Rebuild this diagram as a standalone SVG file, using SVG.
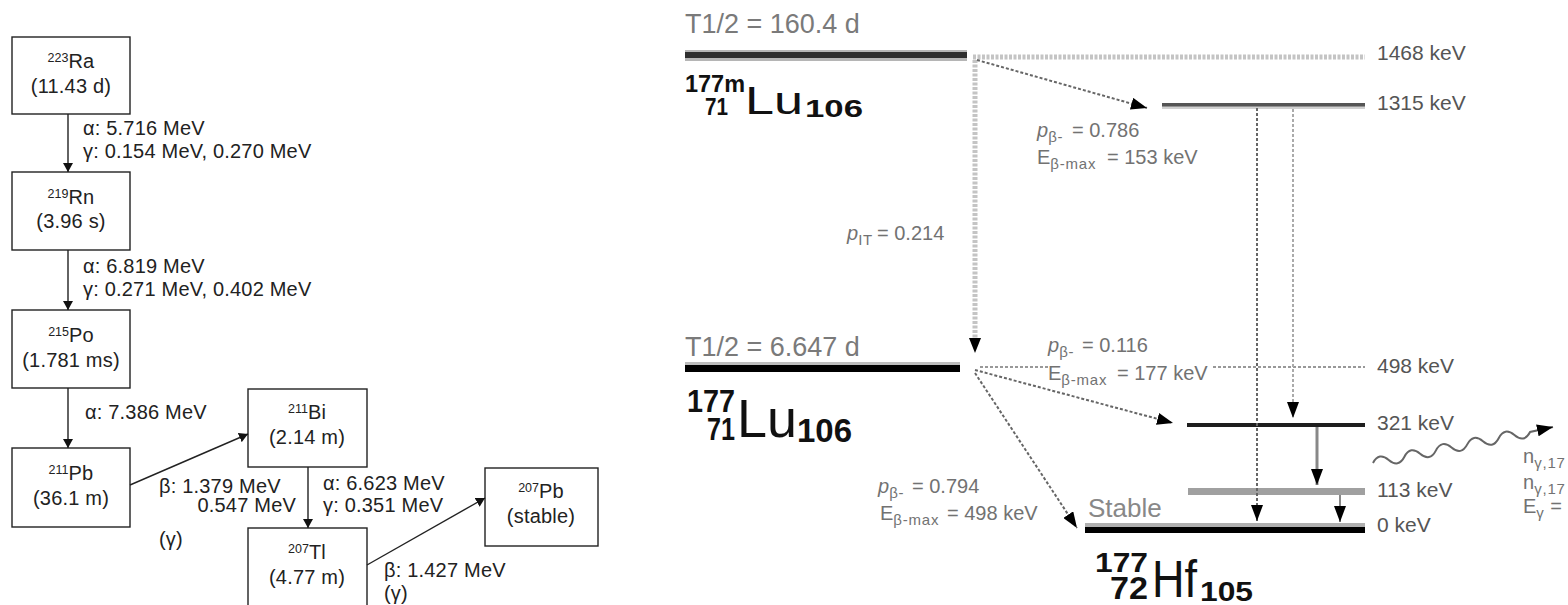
<svg xmlns="http://www.w3.org/2000/svg" width="1568" height="605" viewBox="0 0 1568 605">
<style>
.box{fill:#fff;stroke:#222;stroke-width:1.4}
.t{font-family:"Liberation Sans",Arial,sans-serif;font-size:20px;fill:#222;letter-spacing:0.2px}
.c{text-anchor:middle}
.sup{font-size:12.5px;letter-spacing:0}
.con{stroke:#222;stroke-width:1.4;fill:none}
.r{font-family:"Liberation Sans",Arial,sans-serif;font-size:20px;fill:#727272}
.big{font-family:"Liberation Sans",Arial,sans-serif;font-size:27px;fill:#7a7a7a}
.kev{font-family:"Liberation Sans",Arial,sans-serif;font-size:21px;fill:#555}
.sub{font-size:15px;letter-spacing:0.8px}
.nb{font-family:"Liberation Sans",Arial,sans-serif;font-weight:bold;fill:#111}
.nr{font-family:"Liberation Sans",Arial,sans-serif;fill:#111}
.dotL{stroke:#c4c4c4;stroke-width:5;stroke-dasharray:3 1.5;fill:none}
.dotD{stroke:#666;stroke-width:2;stroke-dasharray:3 2;fill:none}
.dotM{stroke:#aaa;stroke-width:2;stroke-dasharray:3 2;fill:none}
</style>
<defs>
<marker id="ah" markerUnits="userSpaceOnUse" markerWidth="9" markerHeight="10" refX="9" refY="5" orient="auto">
<path d="M0,0 L9,5 L0,10 z" fill="#111"/>
</marker>
<marker id="ahR" markerUnits="userSpaceOnUse" markerWidth="16" markerHeight="12" refX="16" refY="6" orient="auto">
<path d="M0,0 L16,6 L0,12 z" fill="#000"/>
</marker>
</defs>
<rect width="1568" height="605" fill="#fff"/>

<!-- LEFT: decay chain -->
<g id="ra223"><rect class="box" x="12" y="37" width="118" height="77"/>
<text class="t c" x="71" y="68"><tspan class="sup" dy="-6">223</tspan><tspan dy="6">Ra</tspan></text>
<text class="t c" x="71" y="93">(11.43 d)</text></g>
<g id="rn219"><rect class="box" x="12" y="172" width="118" height="78"/>
<text class="t c" x="71" y="204"><tspan class="sup" dy="-6">219</tspan><tspan dy="6">Rn</tspan></text>
<text class="t c" x="71" y="228">(3.96 s)</text></g>
<g id="po215"><rect class="box" x="12" y="310" width="118" height="78"/>
<text class="t c" x="71" y="342"><tspan class="sup" dy="-6">215</tspan><tspan dy="6">Po</tspan></text>
<text class="t c" x="71" y="367">(1.781 ms)</text></g>
<g id="pb211"><rect class="box" x="12" y="448" width="118" height="79"/>
<text class="t c" x="71" y="480"><tspan class="sup" dy="-6">211</tspan><tspan dy="6">Pb</tspan></text>
<text class="t c" x="71" y="505">(36.1 m)</text></g>
<g id="bi211"><rect class="box" x="248" y="389" width="119" height="78"/>
<text class="t c" x="307" y="419"><tspan class="sup" dy="-6">211</tspan><tspan dy="6">Bi</tspan></text>
<text class="t c" x="307" y="444">(2.14 m)</text></g>
<g id="tl207"><rect class="box" x="248" y="528" width="119" height="82"/>
<text class="t c" x="307" y="559"><tspan class="sup" dy="-6">207</tspan><tspan dy="6">Tl</tspan></text>
<text class="t c" x="307" y="584">(4.77 m)</text></g>
<g id="pb207"><rect class="box" x="485" y="468" width="113" height="78"/>
<text class="t c" x="541" y="498"><tspan class="sup" dy="-6">207</tspan><tspan dy="6">Pb</tspan></text>
<text class="t c" x="541" y="523">(stable)</text></g>

<g id="connectors-left">
<line class="con" x1="68" y1="114" x2="68" y2="172" marker-end="url(#ah)"/>
<line class="con" x1="68" y1="250" x2="68" y2="310" marker-end="url(#ah)"/>
<line class="con" x1="68" y1="388" x2="68" y2="448" marker-end="url(#ah)"/>
<line class="con" x1="130" y1="485" x2="248" y2="434" marker-end="url(#ah)"/>
<line class="con" x1="308" y1="467" x2="308" y2="528" marker-end="url(#ah)"/>
<line class="con" x1="367" y1="565" x2="485" y2="498" marker-end="url(#ah)"/>
<text class="t" x="83" y="135">α: 5.716 MeV</text>
<text class="t" x="83" y="158">γ: 0.154 MeV, 0.270 MeV</text>
<text class="t" x="83" y="273">α: 6.819 MeV</text>
<text class="t" x="83" y="296">γ: 0.271 MeV, 0.402 MeV</text>
<text class="t" x="85" y="419">α: 7.386 MeV</text>
<text class="t" x="159" y="493">β: 1.379 MeV</text>
<text class="t" x="296" y="512" text-anchor="end">0.547 MeV</text>
<text class="t" x="159" y="546">(γ)</text>
<text class="t" x="323" y="490">α: 6.623 MeV</text>
<text class="t" x="323" y="512">γ: 0.351 MeV</text>
<text class="t" x="384" y="577">β: 1.427 MeV</text>
<text class="t" x="384" y="600">(γ)</text>
</g>

<!-- RIGHT: level scheme -->
<g id="lu177m">
<text class="big" x="685" y="33">T1/2 = 160.4 d</text>
<rect x="685" y="50" width="282" height="11" fill="#b5b5b5"/>
<rect x="685" y="52" width="282" height="6" fill="#2e2e2e"/>
<text class="nb" x="685" y="92" font-size="24" textLength="60" lengthAdjust="spacingAndGlyphs">177m</text>
<text class="nb" x="705" y="115" font-size="23" textLength="23" lengthAdjust="spacingAndGlyphs">71</text>
<text class="nr" x="745" y="114" font-size="39" textLength="58" lengthAdjust="spacingAndGlyphs">Lu</text>
<text class="nb" x="805" y="117" font-size="23" textLength="58" lengthAdjust="spacingAndGlyphs">106</text>
<line class="dotL" x1="973" y1="57" x2="1365" y2="57"/>
<text class="kev" x="1377" y="60">1468 keV</text>
</g>
<g id="lvl1315">
<rect x="1162" y="103" width="203" height="6" fill="#d0d0d0"/>
<rect x="1162" y="103" width="203" height="3.5" fill="#555"/>
<text class="kev" x="1377" y="110">1315 keV</text>
</g>
<g id="lu177">
<text class="big" x="685" y="356">T1/2 = 6.647 d</text>
<rect x="685" y="362" width="275" height="10" fill="#bdbdbd"/>
<rect x="685" y="365" width="275" height="7" fill="#000"/>
<text class="nb" x="687" y="412" font-size="32" textLength="48" lengthAdjust="spacingAndGlyphs">177</text>
<text class="nb" x="707" y="440" font-size="31" textLength="28" lengthAdjust="spacingAndGlyphs">71</text>
<text class="nr" x="737" y="437" font-size="53" textLength="60" lengthAdjust="spacingAndGlyphs">Lu</text>
<text class="nb" x="797" y="442" font-size="33" textLength="55" lengthAdjust="spacingAndGlyphs">106</text>
</g>
<g id="lvl498">
<line x1="980" y1="367" x2="1048" y2="367" stroke="#777" stroke-width="1.6" stroke-dasharray="3 2"/>
<line x1="1213" y1="367" x2="1365" y2="367" stroke="#777" stroke-width="1.6" stroke-dasharray="3 2"/>
<text class="kev" x="1377" y="373">498 keV</text>
</g>
<g id="lvl321">
<rect x="1187" y="423" width="178" height="4" fill="#1e1e1e"/>
<text class="kev" x="1377" y="430">321 keV</text>
</g>
<g id="lvl113">
<rect x="1188" y="488" width="177" height="7" fill="#a0a0a0"/>
<text class="kev" x="1377" y="497">113 keV</text>
</g>
<g id="hf177">
<text x="1088" y="517" font-family="Liberation Sans, Arial, sans-serif" font-size="26" fill="#888">Stable</text>
<rect x="1085" y="523" width="280" height="10" fill="#b0b0b0"/>
<rect x="1085" y="527" width="280" height="6" fill="#000"/>
<text class="kev" x="1377" y="532">0 keV</text>
<text class="nb" x="1095" y="572" font-size="28" textLength="53" lengthAdjust="spacingAndGlyphs">177</text>
<text class="nb" x="1110" y="599" font-size="32" textLength="38" lengthAdjust="spacingAndGlyphs">72</text>
<text class="nr" x="1152" y="597" font-size="51" textLength="45" lengthAdjust="spacingAndGlyphs">Hf</text>
<text class="nb" x="1200" y="601" font-size="28" textLength="53" lengthAdjust="spacingAndGlyphs">105</text>
</g>

<g id="connectors-right">
<line class="dotL" x1="975" y1="60" x2="975" y2="340"/>
<path d="M969,338 L981,338 L975,353 z" fill="#000"/>
<line class="dotD" x1="977" y1="60" x2="1147" y2="108" marker-end="url(#ahR)"/>
<line class="dotD" x1="975" y1="370" x2="1173" y2="423" marker-end="url(#ahR)"/>
<line class="dotD" x1="975" y1="373" x2="1077" y2="528" marker-end="url(#ahR)"/>
<line class="dotD" x1="1257" y1="108" x2="1257" y2="521" stroke="#555" marker-end="url(#ahR)"/>
<line class="dotM" x1="1293" y1="109" x2="1293" y2="418" marker-end="url(#ahR)"/>
<line x1="1317" y1="427" x2="1317" y2="485" stroke="#888" stroke-width="3" marker-end="url(#ahR)"/>
<line x1="1340" y1="495" x2="1340" y2="522" stroke="#888" stroke-width="2" marker-end="url(#ahR)"/>
<path d="M1373,463 q5.92,-11.37 15.71,-3.1 q9.8,8.27 15.71,-3.1 q5.92,-11.37 15.71,-3.1 q9.8,8.27 15.71,-3.1 q5.92,-11.37 15.71,-3.1 q9.8,8.27 15.71,-3.1 q5.92,-11.37 15.71,-3.1 q9.8,8.27 15.71,-3.1 q5.92,-11.37 15.71,-3.1 q9.8,8.27 15.71,-3.1 L1553,427" stroke="#666" stroke-width="2" fill="none" marker-end="url(#ahR)"/>
<text class="r" x="1037" y="137"><tspan font-style="italic">p</tspan><tspan class="sub" dy="5">β-</tspan><tspan x="1072" dy="-5">= 0.786</tspan></text>
<text class="r" x="1037" y="164">E<tspan class="sub" dy="5">β-max</tspan><tspan x="1107" dy="-5">= 153 keV</tspan></text>
<text class="r" x="847" y="240"><tspan font-style="italic">p</tspan><tspan class="sub" dy="5">IT</tspan><tspan x="877" dy="-5">= 0.214</tspan></text>
<text class="r" x="1048" y="352"><tspan font-style="italic">p</tspan><tspan class="sub" dy="5">β-</tspan><tspan x="1082" dy="-5">= 0.116</tspan></text>
<text class="r" x="1048" y="380">E<tspan class="sub" dy="5">β-max</tspan><tspan x="1117" dy="-5">= 177 keV</tspan></text>
<text class="r" x="878" y="493"><tspan font-style="italic">p</tspan><tspan class="sub" dy="5">β-</tspan><tspan x="912" dy="-5">= 0.794</tspan></text>
<text class="r" x="880" y="520">E<tspan class="sub" dy="5">β-max</tspan><tspan x="947" dy="-5">= 498 keV</tspan></text>
<text class="r" x="1523" y="463" font-size="18">n<tspan class="sub" dy="5" font-size="13">γ,17</tspan></text>
<text class="r" x="1523" y="489" font-size="18">n<tspan class="sub" dy="5" font-size="13">γ,17</tspan></text>
<text class="r" x="1523" y="513" font-size="18">E<tspan class="sub" dy="5" font-size="13">γ</tspan><tspan dy="-5"> =</tspan></text>
</g>
</svg>
